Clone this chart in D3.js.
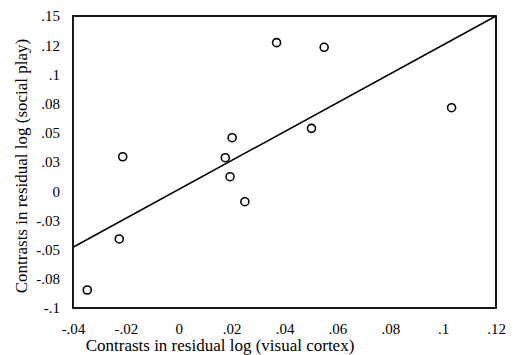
<!DOCTYPE html>
<html><head><meta charset="utf-8">
<script src="https://cdn.jsdelivr.net/npm/d3@7"></script>
<style>html,body{margin:0;padding:0;background:#fff;}</style>
</head><body>
<svg id="c" width="515" height="355"></svg>
<script>
const xVals = [-0.0212, 0.0202, 0.0176, 0.0194, 0.025, -0.0225, -0.0346, 0.037, 0.055, 0.1032, 0.0502];
const yVals = [0.0295, 0.0458, 0.0287, 0.0124, -0.009, -0.0409, -0.0846, 0.1272, 0.1232, 0.0715, 0.0538];
const fitX = [-0.04, 0.12];
const fitY = [-0.048, 0.15];
const xTicks = [-0.04, -0.02, 0, 0.02, 0.04, 0.06, 0.08, 0.1, 0.12];
const xTickLabels = ["-.04", "-.02", "0", ".02", ".04", ".06", ".08", ".1", ".12"];
const yTicks = [-0.1, -0.075, -0.05, -0.025, 0, 0.025, 0.05, 0.075, 0.1, 0.125, 0.15];
const yTickLabels = ["-.1", "-.08", "-.05", "-.03", "0", ".03", ".05", ".08", ".1", ".12", ".15"];
const xTitle = "Contrasts in residual log (visual cortex)";
const yTitle = "Contrasts in residual log (social play)";

const svg = d3.select("#c");
const L = 73, R = 496, T = 16, B = 308;
const x = d3.scaleLinear().domain([-0.04, 0.12]).range([L, R]);
const y = d3.scaleLinear().domain([-0.1, 0.15]).range([B, T]);
const font = "'Liberation Serif', 'Times New Roman', serif";

const xAxis = d3.axisBottom(x).tickValues(xTicks).tickSize(0).tickPadding(15)
  .tickFormat((d, i) => xTickLabels[i]);
const gx = svg.append("g").attr("transform", `translate(0,${B})`).call(xAxis);
gx.select(".domain").remove();
gx.selectAll("text").attr("font-family", font).attr("font-size", 15).attr("fill", "#000");

const yAxis = d3.axisLeft(y).tickValues(yTicks).tickSize(0).tickPadding(13)
  .tickFormat((d, i) => yTickLabels[i]);
const gy = svg.append("g").attr("transform", `translate(${L},0)`).call(yAxis);
gy.select(".domain").remove();
gy.selectAll("text").attr("font-family", font).attr("font-size", 15).attr("fill", "#000");

// frame
svg.append("rect").attr("x", L).attr("y", T).attr("width", R - L).attr("height", B - T)
  .attr("fill", "none").attr("stroke", "#000").attr("stroke-width", 1.8);

// regression line
svg.append("line")
  .attr("x1", x(fitX[0])).attr("y1", y(fitY[0]))
  .attr("x2", x(fitX[1])).attr("y2", y(fitY[1]))
  .attr("stroke", "#000").attr("stroke-width", 1.5);

// points
svg.append("g").selectAll("circle").data(xVals).join("circle")
  .attr("cx", d => x(d)).attr("cy", (d, i) => y(yVals[i]))
  .attr("r", 4).attr("fill", "#fff").attr("stroke", "#000").attr("stroke-width", 1.6);

svg.append("text").attr("x", 220).attr("y", 351).attr("text-anchor", "middle")
  .attr("font-family", font).attr("font-size", 17).text(xTitle);
svg.append("text").attr("transform", `translate(27,166) rotate(-90)`)
  .attr("text-anchor", "middle").attr("font-family", font).attr("font-size", 17).text(yTitle);
</script>
</body></html>
